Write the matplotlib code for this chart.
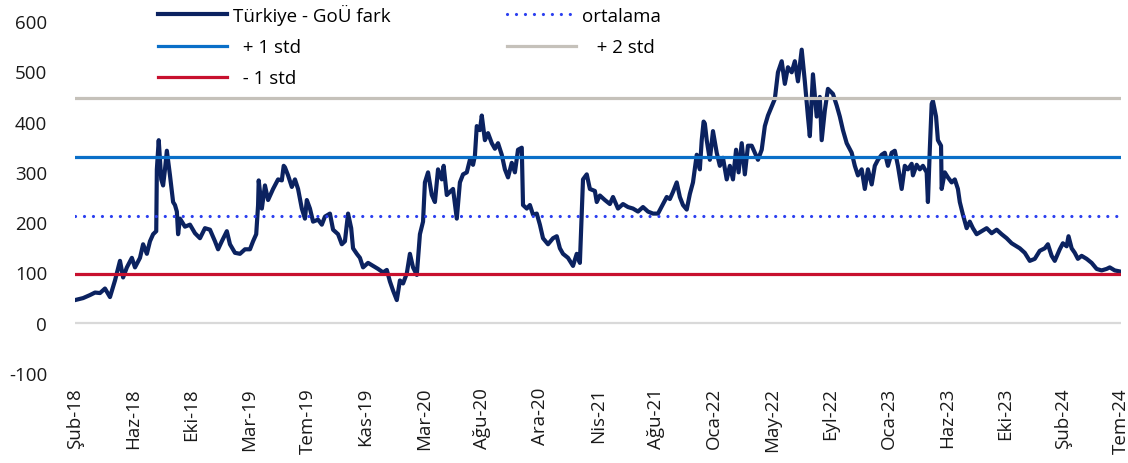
import matplotlib
matplotlib.use('Agg')
import matplotlib.pyplot as plt
from matplotlib.lines import Line2D

plt.rcParams['font.family'] = ['Open Sans', 'DejaVu Sans']
plt.rcParams['axes.unicode_minus'] = False

# iş günü sırası ve Türkiye - GoÜ fark değerleri
gun = [0, 13, 24, 32, 40, 48, 56, 64, 72, 77, 83, 91,
       96, 104, 109, 115, 120, 125, 130, 131, 134, 138, 141, 144,
       147, 152, 157, 160, 163, 165, 168, 176, 184, 192, 200, 208,
       216, 224, 229, 235, 243, 248, 256, 264, 272, 280, 285, 290,
       293, 294, 299, 304, 309, 317, 325, 331, 334, 336, 341, 347,
       352, 357, 363, 368, 371, 376, 381, 389, 395, 400, 408, 413,
       421, 427, 432, 437, 442, 445, 451, 456, 461, 469, 477, 485,
       493, 499, 504, 509, 515, 520, 525, 531, 536, 541, 547, 552,
       557, 560, 565, 571, 576, 581, 587, 590, 595, 600, 605, 611,
       616, 621, 627, 632, 637, 640, 643, 648, 651, 656, 661, 667,
       672, 677, 683, 688, 693, 699, 704, 709, 715, 717, 723, 728,
       733, 739, 744, 749, 757, 765, 771, 776, 781, 789, 797, 803,
       808, 813, 819, 824, 832, 835, 840, 848, 856, 861, 869, 877,
       885, 893, 901, 909, 917, 925, 933, 941, 947, 952, 957, 963,
       968, 973, 979, 984, 989, 995, 1000, 1003, 1006, 1008, 1011, 1016,
       1021, 1027, 1032, 1037, 1043, 1048, 1053, 1058, 1062, 1067, 1072, 1077,
       1083, 1088, 1093, 1099, 1104, 1109, 1115, 1120, 1125, 1131, 1136, 1141,
       1147, 1152, 1157, 1163, 1168, 1173, 1176, 1181, 1187, 1192, 1195, 1200,
       1205, 1213, 1219, 1224, 1229, 1235, 1243, 1248, 1253, 1259, 1264, 1269,
       1275, 1280, 1285, 1291, 1296, 1301, 1307, 1312, 1317, 1323, 1328, 1333,
       1339, 1341, 1347, 1352, 1357, 1363, 1365, 1368, 1371, 1373, 1378, 1381,
       1386, 1387, 1392, 1397, 1403, 1408, 1413, 1416, 1421, 1427, 1432, 1437,
       1443, 1451, 1459, 1467, 1475, 1483, 1491, 1499, 1507, 1512, 1520, 1528,
       1536, 1544, 1552, 1557, 1563, 1568, 1576, 1581, 1587, 1590, 1595, 1600,
       1605, 1611, 1619, 1627, 1635, 1643, 1651, 1656, 1664, 1672]

fark = [45, 49, 55, 60, 59, 68, 51, 84, 123, 90, 110, 129,
        110, 129, 156, 137, 162, 176, 182, 305, 363, 285, 273, 305,
        342, 293, 240, 234, 221, 176, 207, 191, 195, 178, 168, 188,
        185, 162, 146, 162, 182, 156, 139, 137, 146, 146, 162, 176,
        234, 283, 227, 273, 244, 266, 285, 283, 312, 309, 293, 270,
        285, 266, 227, 207, 244, 227, 201, 205, 195, 211, 217, 185,
        176, 156, 162, 217, 188, 148, 137, 129, 110, 119, 113, 107,
        100, 105, 82, 64, 45, 84, 78, 98, 137, 110, 95, 176,
        201, 279, 299, 254, 240, 305, 285, 312, 254, 260, 266, 207,
        279, 295, 299, 324, 314, 332, 391, 383, 412, 363, 377, 357,
        346, 357, 334, 305, 289, 318, 299, 344, 348, 234, 227, 234,
        215, 217, 195, 168, 156, 168, 172, 148, 137, 129, 113, 137,
        119, 285, 295, 266, 262, 240, 253, 244, 236, 250, 227, 236,
        230, 227, 221, 230, 221, 217, 217, 236, 250, 246, 260, 279,
        250, 234, 225, 256, 279, 334, 305, 363, 400, 396, 363, 324,
        381, 338, 312, 328, 285, 312, 285, 344, 299, 357, 295, 352,
        352, 338, 324, 344, 391, 412, 430, 445, 498, 520, 475, 508,
        498, 520, 480, 543, 480, 410, 371, 494, 410, 449, 363, 422,
        465, 455, 432, 410, 383, 357, 338, 312, 293, 305, 266, 305,
        275, 312, 324, 334, 338, 312, 338, 342, 312, 266, 312, 305,
        316, 293, 314, 305, 312, 299, 240, 344, 435, 441, 410, 363,
        352, 266, 299, 289, 279, 285, 266, 240, 215, 188, 201, 188,
        176, 182, 188, 178, 185, 176, 168, 158, 152, 148, 139, 123,
        127, 143, 148, 156, 133, 123, 146, 158, 152, 172, 148, 139,
        127, 133, 127, 119, 107, 104, 107, 110, 104, 102]

ortalama = 213
std = 117

etiketler = ['Şub-18', 'Haz-18', 'Eki-18', 'Mar-19', 'Tem-19', 'Kas-19',
             'Mar-20', 'Ağu-20', 'Ara-20', 'Nis-21', 'Ağu-21', 'Oca-22',
             'May-22', 'Eyl-22', 'Oca-23', 'Haz-23', 'Eki-23', 'Şub-24',
             'Tem-24']
adim = 93  # etiketler arası gün sayısı

# renkler
c_fark = '#0B2260'
c_ort = '#2B3FF0'
c_std1 = '#0A6FC8'
c_std2 = '#C5C1BA'
c_neg = '#C8102E'

fig = plt.figure(figsize=(11.28, 4.64), dpi=100)
ax = fig.add_axes([75 / 1128, 1 - 374 / 464, (1121 - 75) / 1128, (374 - 22) / 464])

ax.axhline(0, color='#D9D9D9', lw=1.6, zorder=1)
ax.plot(gun, fark, color=c_fark, lw=3.0, solid_joinstyle='round', zorder=2)
ax.axhline(ortalama, color=c_ort, lw=2.3, linestyle=(0, (0.01, 2.8)),
           dash_capstyle='round', zorder=3)
ax.axhline(ortalama + std, color=c_std1, lw=2.3, zorder=3)
ax.axhline(ortalama + 2 * std, color=c_std2, lw=2.3, zorder=3)
ax.axhline(ortalama - std, color=c_neg, lw=2.3, zorder=3)

ax.set_xlim(0, adim * (len(etiketler) - 1))
ax.set_ylim(-100, 600)
ax.set_yticks(range(-100, 601, 100))
ax.set_xticks([i * adim for i in range(len(etiketler))])
ax.set_xticklabels(etiketler, rotation=90)
for s in ax.spines.values():
    s.set_visible(False)
ax.tick_params(axis='y', length=0, pad=20, labelsize=13.5, labelcolor='#1a1a1a')
ax.tick_params(axis='x', length=0, pad=10, labelsize=13.5, labelcolor='#1a1a1a')

h = [Line2D([], [], color=c_fark, lw=3.0),
     Line2D([], [], color=c_std1, lw=2.3),
     Line2D([], [], color=c_neg, lw=2.3),
     Line2D([], [], color=c_ort, lw=2.3, linestyle=(0, (0.01, 2.8)), dash_capstyle='round'),
     Line2D([], [], color=c_std2, lw=2.3)]
l = ['Türkiye - GoÜ fark', '  + 1 std', '  - 1 std', 'ortalama', '   + 2 std']
fig.legend(h, l, ncol=2, loc='upper left', bbox_to_anchor=(158 / 1128, 1 - 5 / 464),
           frameon=False, fontsize=13.5, handlelength=3.7, handletextpad=0.3,
           labelspacing=0.7, columnspacing=6.2, borderpad=0, borderaxespad=0)

fig.savefig('out.png', dpi=100)
